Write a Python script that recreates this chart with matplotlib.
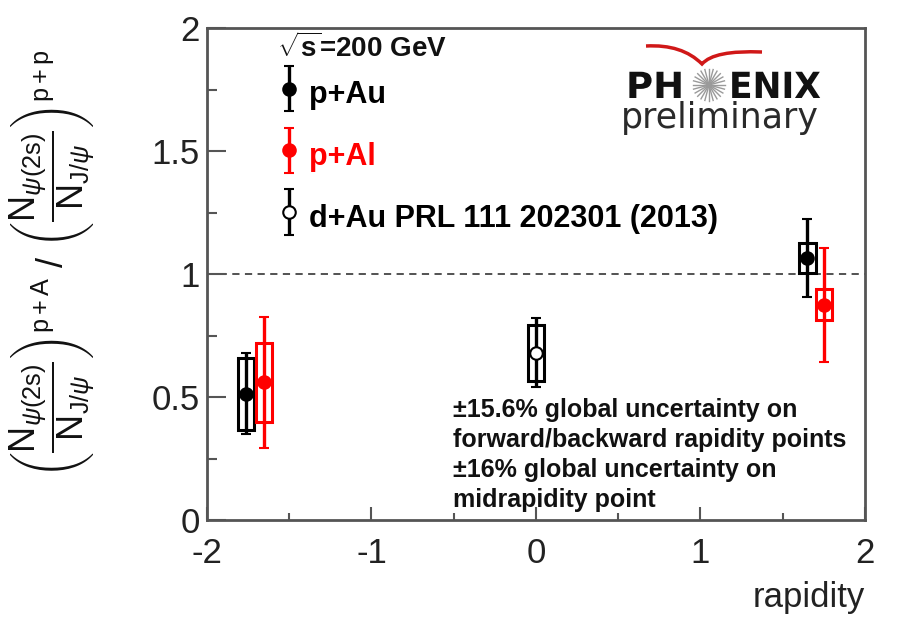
import matplotlib
matplotlib.use("Agg")
import matplotlib.pyplot as plt
import numpy as np
from matplotlib.patches import Rectangle, PathPatch
from matplotlib.path import Path
from matplotlib.textpath import TextPath
from matplotlib.font_manager import FontProperties
from matplotlib.transforms import Affine2D
from matplotlib.lines import Line2D
from matplotlib.container import ErrorbarContainer
from matplotlib.legend_handler import HandlerErrorbar

plt.rcParams["font.family"] = ["Liberation Sans", "DejaVu Sans"]
plt.rcParams["mathtext.fontset"] = "custom"
plt.rcParams["mathtext.rm"] = "Liberation Sans"
plt.rcParams["mathtext.it"] = "Liberation Sans:italic"
plt.rcParams["mathtext.bf"] = "Liberation Sans:bold"

# ---- data ----
rap_pAu = [-1.763, 1.65]
ratio_pAu = [0.513, 1.065]
stat_pAu = [0.165, 0.157]
sys_pAu = [0.147, 0.059]

rap_pAl = [-1.653, 1.75]
ratio_pAl = [0.56, 0.875]
stat_pAl = [0.266, 0.232]
sys_pAl = [0.16, 0.064]

rap_dAu = [0.0]
ratio_dAu = [0.68]
stat_dAu = [0.14]
sys_dAu = [0.114]

x_ticks = [-2, -1, 0, 1, 2]
y_ticks = [0, 0.5, 1, 1.5, 2]
y_ticklabels = ["0", "0.5", "1", "1.5", "2"]

W, H = 904, 620
fig = plt.figure(figsize=(W / 100, H / 100), dpi=100)
ax = fig.add_axes([207 / W, 1 - 520 / H, 658 / W, 492 / H])

ax.set_xlim(-2, 2)
ax.set_ylim(0, 2)

# reference line at unity
ax.axhline(1.0, color="#444444", lw=1.3, dashes=(4, 3), zorder=1)

BOX_HW = 0.05


def draw_series(x, y, stat, sys, color, face, label):
    for xi, yi, si in zip(x, y, sys):
        ax.add_patch(Rectangle((xi - BOX_HW, yi - si), 2 * BOX_HW, 2 * si,
                               facecolor="none", edgecolor=color, lw=2.2, zorder=2))
    cont = ax.errorbar(x, y, yerr=stat, fmt="o", color=color, mfc=face, mec=color,
                       mew=1.5, ms=9, elinewidth=2.4, capsize=3.5, capthick=2,
                       zorder=3, label=label)
    return cont


h1 = draw_series(rap_pAu, ratio_pAu, stat_pAu, sys_pAu, "black", "black", "p+Au")
h2 = draw_series(rap_pAl, ratio_pAl, stat_pAl, sys_pAl, "red", "red", "p+Al")
h3 = draw_series(rap_dAu, ratio_dAu, stat_dAu, sys_dAu, "black", "white",
                 "d+Au PRL 111 202301 (2013)")

leg = ax.legend(handles=[h1, h2, h3], loc="upper left", bbox_to_anchor=(0.108, 0.907),
                frameon=False, borderpad=0, borderaxespad=0,
                prop=FontProperties(family="Liberation Sans", weight="bold", size=22),
                handlelength=0.7, handleheight=1.6, labelspacing=0.74,
                handletextpad=0.3,
                handler_map={ErrorbarContainer: HandlerErrorbar(yerr_size=0.75)})
for t, c in zip(leg.get_texts(), ["black", "red", "black"]):
    t.set_color(c)

ax.text(0.106, 0.941, r"$\sqrt{\mathbf{s}}$=200 GeV", transform=ax.transAxes,
        fontsize=20, fontweight="bold", color="#111111", ha="left", va="baseline")

# axes styling
for s in ax.spines.values():
    s.set_color("#555555")
    s.set_linewidth(2)
ax.set_xticks(x_ticks)
ax.set_xticklabels([str(v) for v in x_ticks])
ax.set_xticks(np.arange(-1.5, 2, 1.0), minor=True)
ax.set_yticks(y_ticks)
ax.set_yticklabels(y_ticklabels)
ax.set_yticks(np.arange(0.25, 2, 0.5), minor=True)
ax.tick_params(axis="both", which="both", direction="in", colors="#555555",
               labelcolor="#222222", labelsize=25)
ax.tick_params(axis="y", which="major", length=14, width=1.5, pad=5)
ax.tick_params(axis="y", which="minor", length=7, width=1.5)
ax.tick_params(axis="x", which="major", length=9.5, width=1.5, pad=12)
ax.tick_params(axis="x", which="minor", length=5, width=1.5)

ax.set_xlabel("rapidity", fontsize=25, color="#222222", ha="right", va="center")
ax.xaxis.set_label_coords(1.0, -0.157)

ylab = (r"$\left(\dfrac{\mathrm{N}_{\psi\mathrm{(2s)}}}{\mathrm{N}_{\mathrm{J/}\psi}}\right)^{\mathrm{p+A}}"
        r"\ /\ \left(\dfrac{\mathrm{N}_{\psi\mathrm{(2s)}}}{\mathrm{N}_{\mathrm{J/}\psi}}\right)^{\mathrm{p+p}}$")
ax.set_ylabel(ylab, fontsize=26, color="#111111", va="center", ha="center")
ax.yaxis.set_label_coords(-0.235, 0.52)

# global uncertainty note
ax.text(0.374, 0.248,
        "\u00b115.6% global uncertainty on\nforward/backward rapidity points\n"
        "\u00b116% global uncertainty on\nmidrapidity point",
        transform=ax.transAxes, fontsize=18, fontweight="bold", color="#111111",
        va="top", ha="left", linespacing=1.31)


# ---- PHENIX preliminary logo ----
def pix(px, py):
    return px / W, 1 - py / H


def wide_text(s, px, py, sx, sy, color):
    tp = TextPath((0, 0), s, size=1,
                  prop=FontProperties(family="DejaVu Sans", weight="bold"))
    fx, fy = pix(px, py)
    tr = Affine2D().scale(sx / W, sy / H).translate(fx, fy) + fig.transFigure
    fig.patches.append(PathPatch(tp, transform=tr, facecolor=color, edgecolor="none"))


wide_text("PH", 626, 98, 37, 36, "#111111")
wide_text("ENIX", 729, 98, 34.5, 36, "#111111")

# starburst
cx, cy = 709, 85
for ang in np.linspace(0, np.pi, 12, endpoint=False):
    dx, dy = 16 * np.cos(ang), 16 * np.sin(ang)
    x0, y0 = pix(cx - dx, cy - dy)
    x1, y1 = pix(cx + dx, cy + dy)
    fig.lines.append(Line2D([x0, x1], [y0, y1], transform=fig.transFigure,
                            color="#9a9a9a", lw=1.0))

# red arc
verts = [pix(646, 46), pix(682, 44), pix(702, 64), pix(714, 50), pix(762, 52)]
codes = [Path.MOVETO, Path.CURVE3, Path.CURVE3, Path.CURVE3, Path.CURVE3]
fig.patches.append(PathPatch(Path(verts, codes), transform=fig.transFigure,
                             facecolor="none", edgecolor="#d01818", lw=2.5))

fx, fy = pix(621, 128)
fig.text(fx, fy, "preliminary", fontsize=25, family="DejaVu Sans",
         color="#2a2a2a", ha="left", va="baseline")

fig.savefig("out.png", dpi=100)
